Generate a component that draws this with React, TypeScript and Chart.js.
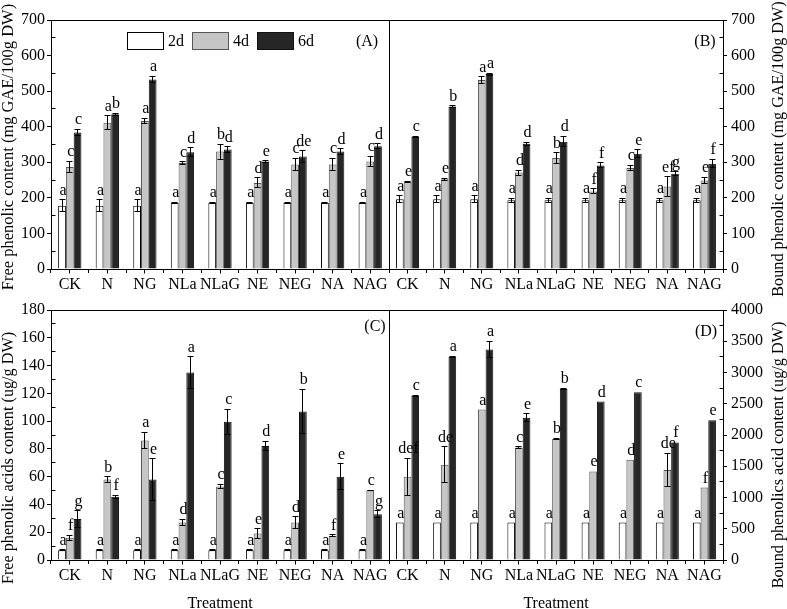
import React, { useEffect, useRef } from 'react';
import { Chart, registerables } from 'chart.js';

Chart.register(...registerables);

const FONT = "'Liberation Serif', 'Times New Roman', 'DejaVu Serif', serif";
Chart.defaults.font.family = FONT;

const categories = ['CK', 'N', 'NG', 'NLa', 'NLaG', 'NE', 'NEG', 'NA', 'NAG'];
const seriesLabels = ['2d', '4d', '6d'];

// (A) Free phenolic content (mg GAE/100g DW)
const freeTP2d = [178, 178, 178, 186, 186, 186, 186, 186, 186];
const freeTP2dErr = [16, 16, 16, 2, 2, 2, 2, 2, 2];
const freeTP4d = [287, 411, 416, 298, 330, 242, 294, 294, 302];
const freeTP4dErr = [16, 20, 8, 3, 21, 14, 18, 17, 15];
const freeTP6d = [384, 435, 533, 328, 336, 302, 316, 330, 345];
const freeTP6dErr = [9, 3, 9, 13, 8, 2, 16, 8, 7];
const freeTP2dLetters = ['a', 'a', 'a', 'a', 'a', 'a', 'a', 'a', 'a'];
const freeTP4dLetters = ['c', 'a', 'a', 'c', 'b', 'd', 'c', 'c', 'c'];
const freeTP6dLetters = ['c', 'b', 'a', 'd', 'd', 'e', 'de', 'd', 'd'];
const ticksA = [0, 100, 200, 300, 400, 500, 600, 700];

// (B) Bound phenolic content (mg GAE/100g DW)
const boundTP2d = [196, 196, 196, 193, 193, 193, 193, 193, 193];
const boundTP2dErr = [10, 10, 10, 6, 6, 6, 6, 6, 6];
const boundTP4d = [244, 252, 531, 271, 312, 218, 284, 232, 249];
const boundTP4dErr = [2, 3, 10, 7, 15, 7, 8, 27, 9];
const boundTP6d = [371, 457, 548, 352, 358, 291, 324, 268, 296];
const boundTP6dErr = [2, 2, 3, 4, 15, 7, 11, 5, 12];
const boundTP2dLetters = ['a', 'a', 'a', 'a', 'a', 'a', 'a', 'a', 'a'];
const boundTP4dLetters = ['e', 'e', 'a', 'd', 'b', 'f', 'c', 'ef', 'e'];
const boundTP6dLetters = ['c', 'b', 'a', 'd', 'd', 'f', 'e', 'g', 'f'];
const ticksB = [0, 100, 200, 300, 400, 500, 600, 700];

// (C) Free phenolic acids content (ug/g DW)
const freePA2d = [7, 7, 7, 7, 7, 7, 7, 7, 7];
const freePA2dErr = [0.5, 0.5, 0.5, 0.5, 0.5, 0.5, 0.5, 0.5, 0.5];
const freePA4d = [16, 58, 86, 27, 53, 19, 27, 17.5, 50];
const freePA4dErr = [2, 2, 6, 2.5, 1.5, 3.5, 4, 0.8, 0.3];
const freePA6d = [29.5, 45.5, 58, 135, 99.5, 82, 107, 60, 33];
const freePA6dErr = [6, 1, 15, 11.5, 9, 3.4, 16, 9.4, 2.4];
const freePA2dLetters = ['a', 'a', 'a', 'a', 'a', 'a', 'a', 'a', 'a'];
const freePA4dLetters = ['f', 'b', 'a', 'd', 'c', 'e', 'd', 'f', 'c'];
const freePA6dLetters = ['g', 'f', 'e', 'a', 'c', 'd', 'b', 'e', 'g'];
const ticksC = [0, 20, 40, 60, 80, 100, 120, 140, 160, 180];

// (D) Bound phenolics acid content (ug/g DW)
const boundPA2d = [600, 600, 600, 600, 600, 600, 600, 600, 600];
const boundPA2dErr = [0, 0, 0, 0, 0, 0, 0, 0, 0];
const boundPA4d = [1332, 1524, 2407, 1802, 1936, 1417, 1604, 1439, 1160];
const boundPA4dErr = [300, 285, 0, 10, 15, 0, 0, 270, 0];
const boundPA6d = [2630, 3251, 3369, 2278, 2738, 2535, 2685, 1882, 2235];
const boundPA6dErr = [10, 10, 130, 60, 10, 0, 0, 0, 0];
const boundPA2dLetters = ['a', 'a', 'a', 'a', 'a', 'a', 'a', 'a', 'a'];
const boundPA4dLetters = ['def', 'de', 'a', 'c', 'b', 'e', 'd', 'de', 'f'];
const boundPA6dLetters = ['c', 'a', 'a', 'e', 'b', 'd', 'c', 'f', 'e'];
const ticksD = [0, 500, 1000, 1500, 2000, 2500, 3000, 3500, 4000];

const barStyles = [
  { backgroundColor: '#ffffff', borderColor: '#000000' },
  { backgroundColor: '#c6c6c6', borderColor: '#555555' },
  { backgroundColor: '#262626', borderColor: '#111111' },
];

const al = (p: number) => Math.round(p - 0.5) + 0.5;

const decorPlugin = {
  id: 'panelDecor',
  afterDatasetsDraw(chart: any, _args: any, opts: any) {
    const ctx = chart.ctx;
    const ys = chart.scales.y;
    ctx.save();
    ctx.font = `16px ${FONT}`;
    ctx.textAlign = 'center';
    ctx.textBaseline = 'alphabetic';
    chart.data.datasets.forEach((ds: any, di: number) => {
      const meta = chart.getDatasetMeta(di);
      meta.data.forEach((bar: any, i: number) => {
        const v = ds.data[i];
        const e = ds.errors[i] || 0;
        const x = bar.x;
        const w = bar.width;
        const top = ys.getPixelForValue(v + e);
        if (e > 0) {
          const bot = ys.getPixelForValue(v - e);
          const cx = al(x);
          const hw = Math.round(w * 0.4);
          ctx.strokeStyle = '#000';
          ctx.lineWidth = 1;
          ctx.beginPath();
          ctx.moveTo(cx, top);
          ctx.lineTo(cx, bot);
          ctx.moveTo(cx - hw, al(top));
          ctx.lineTo(cx + hw, al(top));
          ctx.moveTo(cx - hw, al(bot));
          ctx.lineTo(cx + hw, al(bot));
          ctx.stroke();
        }
        ctx.fillStyle = '#000';
        ctx.fillText(ds.letters[i], x + 1, top - (opts.letterGap || 5));
      });
    });
    ctx.restore();
  },
  afterDraw(chart: any, _args: any, opts: any) {
    const ctx = chart.ctx;
    const { left, right, top, bottom } = chart.chartArea;
    ctx.save();
    ctx.strokeStyle = '#000';
    ctx.lineWidth = 1;
    ctx.strokeRect(al(left), al(top), al(right) - al(left), al(bottom) - al(top));

    // minor ticks pointing inward on the value axis
    const ys = chart.scales.y;
    const majors = ys.ticks.map((t: any) => t.value);
    const isLeft = ys.position === 'left';
    const ax = isLeft ? al(left) : al(right);
    const dir = isLeft ? 1 : -1;
    ctx.beginPath();
    for (let k = 0; k < majors.length - 1; k++) {
      const mid = (majors[k] + majors[k + 1]) / 2;
      const py = al(ys.getPixelForValue(mid));
      ctx.moveTo(ax, py);
      ctx.lineTo(ax + dir * 4, py);
    }
    // centre ticks on the category axis
    const xs = chart.scales.x;
    for (let i = 0; i < chart.data.labels.length; i++) {
      const px = al(xs.getPixelForValue(i));
      ctx.moveTo(px, al(bottom));
      ctx.lineTo(px, al(bottom) + 4);
    }
    ctx.stroke();

    ctx.fillStyle = '#000';
    ctx.font = `16px ${FONT}`;

    if (opts.legend) {
      let lx = opts.legend.x;
      const ly = opts.legend.y;
      ctx.textAlign = 'left';
      ctx.textBaseline = 'middle';
      chart.data.datasets.forEach((ds: any) => {
        ctx.fillStyle = ds.backgroundColor;
        ctx.fillRect(lx + 0.5, ly + 0.5, 36, 17);
        ctx.strokeStyle = ds.borderColor;
        ctx.strokeRect(lx + 0.5, ly + 0.5, 36, 17);
        ctx.fillStyle = '#000';
        ctx.fillText(ds.label, lx + 41, ly + 10);
        lx += 41 + ctx.measureText(ds.label).width + 8;
      });
    }

    if (opts.tag) {
      ctx.fillStyle = '#000';
      ctx.textAlign = 'center';
      ctx.textBaseline = 'middle';
      ctx.fillText(opts.tag.text, opts.tag.x, opts.tag.y);
    }

    if (opts.yTitle) {
      ctx.save();
      ctx.translate(opts.yTitle.x, opts.yTitle.y);
      ctx.rotate(-Math.PI / 2);
      ctx.fillStyle = '#000';
      ctx.font = `${opts.yTitle.size || 16}px ${FONT}`;
      ctx.textAlign = 'center';
      ctx.textBaseline = 'middle';
      ctx.fillText(opts.yTitle.text, 0, 0);
      ctx.restore();
    }
    ctx.restore();
  },
};

type PanelCfg = {
  values: number[][];
  errors: number[][];
  letters: string[][];
  ticks: number[];
  yPos: 'left' | 'right';
  yWidth: number;
  xHeight: number;
  padding: { left: number; right: number; top: number; bottom: number };
  xTitle?: string;
  decor: any;
};

function buildConfig(p: PanelCfg): any {
  return {
    type: 'bar',
    data: {
      labels: categories,
      datasets: seriesLabels.map((lab, k) => ({
        label: lab,
        data: p.values[k],
        errors: p.errors[k],
        letters: p.letters[k],
        backgroundColor: barStyles[k].backgroundColor,
        borderColor: barStyles[k].borderColor,
        borderWidth: 1,
      })),
    },
    options: {
      responsive: false,
      animation: false,
      devicePixelRatio: 1,
      events: [],
      layout: { padding: p.padding },
      datasets: { bar: { categoryPercentage: 0.62, barPercentage: 1 } },
      plugins: {
        legend: { display: false },
        tooltip: { enabled: false },
        panelDecor: p.decor,
      },
      scales: {
        x: {
          type: 'category',
          offset: true,
          grid: {
            display: true,
            offset: true,
            drawOnChartArea: false,
            drawTicks: true,
            tickLength: 4,
            color: '#000',
          },
          border: { display: true, color: '#000', width: 1 },
          ticks: {
            color: '#000',
            font: { family: FONT, size: 16 },
            padding: 2,
            maxRotation: 0,
            minRotation: 0,
            autoSkip: false,
          },
          title: p.xTitle
            ? {
                display: true,
                text: p.xTitle,
                color: '#000',
                font: { family: FONT, size: 16, lineHeight: 1.2 },
                padding: { top: 0, bottom: -4 },
              }
            : { display: false },
          afterFit: (s: any) => {
            s.height = p.xHeight;
          },
        },
        y: {
          type: 'linear',
          position: p.yPos,
          min: p.ticks[0],
          max: p.ticks[p.ticks.length - 1],
          afterBuildTicks: (s: any) => {
            s.ticks = p.ticks.map((v) => ({ value: v }));
          },
          grid: {
            display: true,
            drawOnChartArea: false,
            drawTicks: true,
            tickLength: 4,
            color: '#000',
          },
          border: { display: true, color: '#000', width: 1 },
          ticks: {
            color: '#000',
            font: { family: FONT, size: 16 },
            padding: p.yPos === 'left' ? 2 : 4,
            autoSkip: false,
            callback: (v: any) => String(v),
          },
          afterFit: (s: any) => {
            s.width = p.yWidth;
          },
        },
      },
    },
    plugins: [decorPlugin],
  };
}

const panels: PanelCfg[] = [
  {
    values: [freeTP2d, freeTP4d, freeTP6d],
    errors: [freeTP2dErr, freeTP4dErr, freeTP6dErr],
    letters: [freeTP2dLetters, freeTP4dLetters, freeTP6dLetters],
    ticks: ticksA,
    yPos: 'left',
    yWidth: 51,
    xHeight: 31,
    padding: { left: 0, right: 398, top: 20, bottom: 309 },
    decor: {
      legend: { x: 127, y: 32 },
      tag: { text: '(A)', x: 367, y: 42 },
      yTitle: { text: 'Free phenolic content (mg GAE/100g DW)', x: 9, y: 147, size: 16.5 },
    },
  },
  {
    values: [boundTP2d, boundTP4d, boundTP6d],
    errors: [boundTP2dErr, boundTP4dErr, boundTP6dErr],
    letters: [boundTP2dLetters, boundTP4dLetters, boundTP6dLetters],
    ticks: ticksB,
    yPos: 'right',
    yWidth: 64,
    xHeight: 31,
    padding: { left: 389, right: 0, top: 20, bottom: 309 },
    decor: {
      tag: { text: '(B)', x: 705, y: 42 },
      yTitle: { text: 'Bound phenolic content (mg GAE/100g DW)', x: 779, y: 149, size: 16.2 },
    },
  },
  {
    values: [freePA2d, freePA4d, freePA6d],
    errors: [freePA2dErr, freePA4dErr, freePA6dErr],
    letters: [freePA2dLetters, freePA4dLetters, freePA6dLetters],
    ticks: ticksC,
    yPos: 'left',
    yWidth: 51,
    xHeight: 49,
    xTitle: 'Treatment',
    padding: { left: 0, right: 398, top: 310, bottom: 0 },
    decor: {
      tag: { text: '(C)', x: 375, y: 327 },
      yTitle: { text: 'Free phenolic acids content (ug/g DW)', x: 9, y: 458, size: 16.2 },
    },
  },
  {
    values: [boundPA2d, boundPA4d, boundPA6d],
    errors: [boundPA2dErr, boundPA4dErr, boundPA6dErr],
    letters: [boundPA2dLetters, boundPA4dLetters, boundPA6dLetters],
    ticks: ticksD,
    yPos: 'right',
    yWidth: 64,
    xHeight: 49,
    xTitle: 'Treatment',
    padding: { left: 389, right: 0, top: 310, bottom: 0 },
    decor: {
      tag: { text: '(D)', x: 706, y: 332 },
      yTitle: { text: 'Bound phenolics acid content (ug/g DW)', x: 779, y: 455, size: 16.2 },
    },
  },
];

function Panel({ cfg }: { cfg: PanelCfg }) {
  const ref = useRef<HTMLCanvasElement | null>(null);
  useEffect(() => {
    if (!ref.current) return;
    const chart = new Chart(ref.current, buildConfig(cfg));
    return () => chart.destroy();
  }, [cfg]);
  return (
    <canvas
      ref={ref}
      width={787}
      height={609}
      style={{ position: 'absolute', left: 0, top: 0, width: 787, height: 609 }}
    />
  );
}

export default function App() {
  return (
    <div style={{ position: 'absolute', left: 0, top: 0, width: 787, height: 609, background: '#fff', overflow: 'hidden' }}>
      {panels.map((p, i) => (
        <Panel key={i} cfg={p} />
      ))}
    </div>
  );
}
